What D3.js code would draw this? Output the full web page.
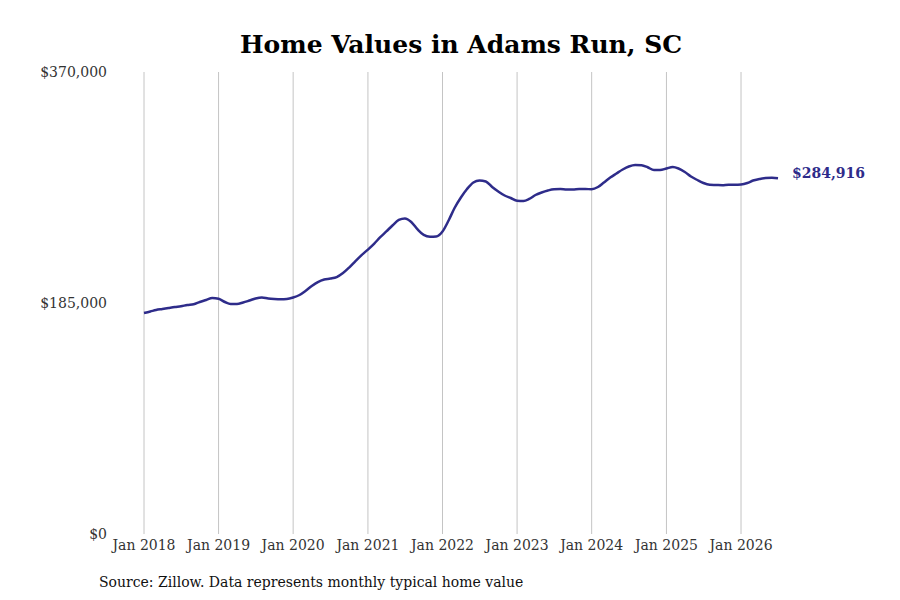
<!DOCTYPE html>
<meta charset="utf-8">
<style>
body { margin: 0; background: #fff; }
text { font-family: "DejaVu Serif", serif; }
.title { font-size: 25px; font-weight: bold; fill: #000; }
.tick-label { font-size: 14px; fill: #333; }
.source { font-size: 14px; fill: #111; }
.end-label { font-size: 14px; font-weight: bold; fill: #2e2c8a; }
</style>
<svg width="900" height="600"></svg>
<script src="https://d3js.org/d3.v7.min.js"></script>
<script>

// monthly typical home value, Jan 2018 .. Jul 2026
var startMonth = "2018-01";
var values = [
  177000, 178200, 179400, 180200, 181000, 181800, 182400, 183400, 184000, 185800, 187400, 189000,
  188400, 185800, 184200, 184200, 185400, 187000, 188600, 189400, 188600, 188200, 188000, 188200,
  189400, 191400, 194600, 198600, 201800, 203800, 204600, 205800, 209000, 213400, 218600, 223400,
  227800, 232600, 237500, 242300, 247100, 251500, 252700, 249900, 243900, 239500, 238100, 238300,
  242300, 251500, 261100, 269500, 276300, 281500, 283100, 282300, 277900, 274300, 271100, 269100,
  266900, 266700, 268300, 271500, 273500, 275100, 276100, 276300, 275900, 275900, 276300, 276300,
  276100, 277900, 281500, 285500, 288700, 291900, 294300, 295500, 295300, 293700, 291500, 291500,
  292700, 293900, 292700, 289900, 286300, 283500, 281100, 279700, 279500, 279300, 279700, 279700,
  279900, 281100, 283100, 284300, 285100, 285300, 284916
];
var yTicks = [0, 185000, 370000];
var xTickYears = [2018, 2019, 2020, 2021, 2022, 2023, 2024, 2025, 2026];

var parse = d3.timeParse("%Y-%m");
var t0 = parse(startMonth);
var data = values.map(function(v, i) { return { date: d3.timeMonth.offset(t0, i), value: v }; });

var svg = d3.select("svg");

var x = d3.scaleTime()
    .domain([t0, data[data.length - 1].date])
    .range([144, 778]);

var y = d3.scaleLinear()
    .domain([0, 370000])
    .range([534, 72]);

// title
svg.append("text")
    .attr("class", "title")
    .attr("x", 461)
    .attr("y", 53)
    .attr("text-anchor", "middle")
    .text("Home Values in Adams Run, SC");

// vertical grid
var years = xTickYears.map(function(yr) { return new Date(yr, 0, 1); });
svg.append("g").selectAll("line")
    .data(years)
  .enter().append("line")
    .attr("x1", function(d) { return x(d); })
    .attr("x2", function(d) { return x(d); })
    .attr("y1", y(370000))
    .attr("y2", y(0))
    .attr("stroke", "#c4c4c4")
    .attr("stroke-width", 1);

svg.append("g").selectAll("text")
    .data(years)
  .enter().append("text")
    .attr("class", "tick-label")
    .attr("x", function(d) { return x(d); })
    .attr("y", 550)
    .attr("text-anchor", "middle")
    .text(d3.timeFormat("Jan %Y"));

// y labels
var fmt = d3.format("$,.0f");
svg.append("g").selectAll("text")
    .data(yTicks)
  .enter().append("text")
    .attr("class", "tick-label")
    .attr("x", 107)
    .attr("y", function(d) { return y(d); })
    .attr("dy", "0.35em")
    .attr("text-anchor", "end")
    .text(function(d) { return fmt(d); });

// line
var line = d3.line()
    .x(function(d) { return x(d.date); })
    .y(function(d) { return y(d.value); })
    .curve(d3.curveMonotoneX);

svg.append("path")
    .datum(data)
    .attr("fill", "none")
    .attr("stroke", "#2e2c8a")
    .attr("stroke-width", 2.5)
    .attr("stroke-linejoin", "round")
    .attr("d", line);

var last = data[data.length - 1];
svg.append("text")
    .attr("class", "end-label")
    .attr("x", x(last.date) + 14)
    .attr("y", y(last.value))
    .attr("dy", "0.0em")
    .text(fmt(last.value));

svg.append("text")
    .attr("class", "source")
    .attr("x", 99)
    .attr("y", 587)
    .text("Source: Zillow. Data represents monthly typical home value");

</script>
